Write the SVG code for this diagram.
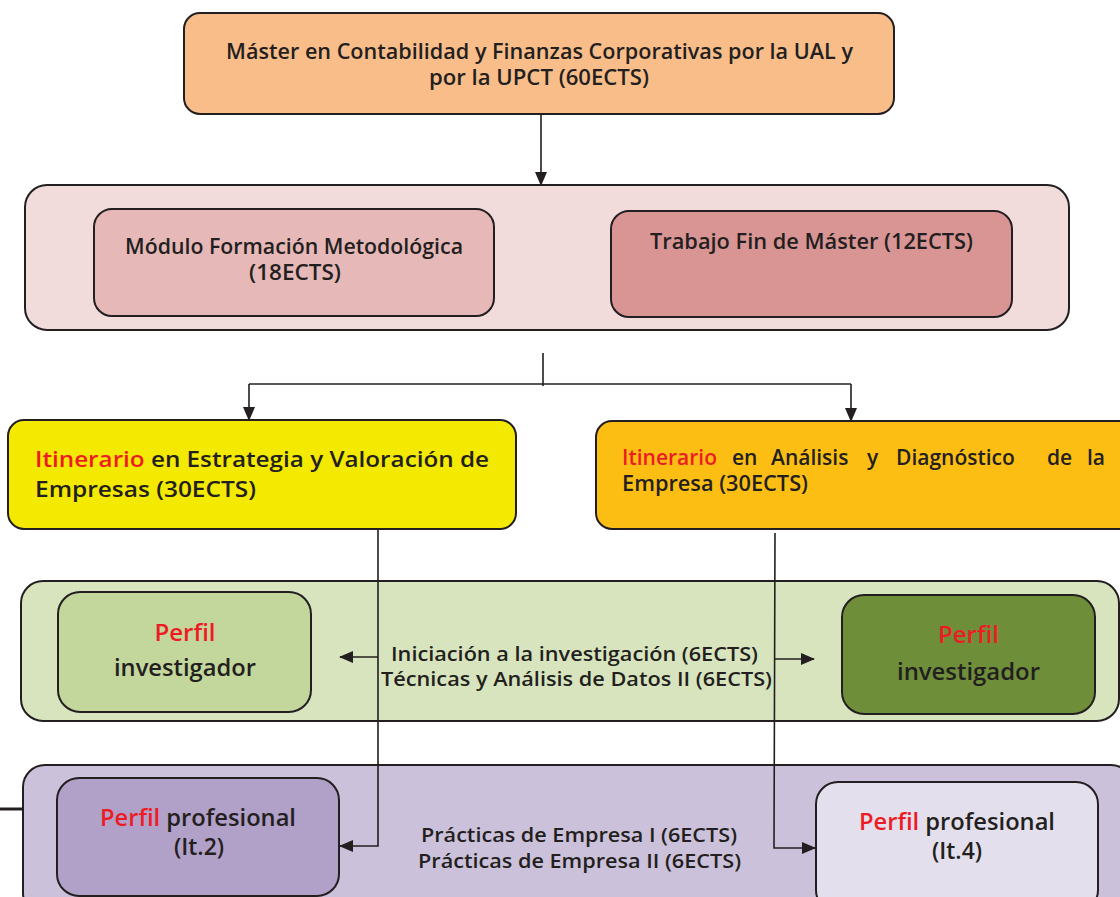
<svg xmlns="http://www.w3.org/2000/svg" width="1120" height="897" viewBox="0 0 1120 897">
<defs>
<marker id="ah" viewBox="0 0 14 12" refX="13" refY="6" markerWidth="14" markerHeight="12" markerUnits="userSpaceOnUse" orient="auto">
<path d="M0,0 L14,6 L0,12 Z" fill="#231f20"/>
</marker>
</defs>
<style>
.box{stroke:#231f20;stroke-width:2}
.t{font-family:'Open Sans','Liberation Sans',sans-serif;font-weight:600;fill:#231f20}
.r{fill:#ed1c24}
.c{text-anchor:middle}
.ln{fill:none;stroke:#231f20;stroke-width:1.6}
.arr{marker-end:url(#ah)}
</style>
<rect width="1120" height="897" fill="#ffffff"/>

<g id="master">
<rect class="box" x="184" y="13" width="710" height="101" rx="16" fill="#f9bd8a"/>
<text class="t" x="226" y="59" font-size="21" textLength="627" lengthAdjust="spacingAndGlyphs">Máster en Contabilidad y Finanzas Corporativas por la UAL y</text>
<text class="t" x="429" y="85" font-size="21" textLength="220" lengthAdjust="spacingAndGlyphs">por la UPCT (60ECTS)</text>
</g>

<g id="bloque-comun">
<rect class="box" x="25" y="185" width="1044" height="145" rx="22" fill="#f2dcdb"/>
</g>
<g id="modulo">
<rect class="box" x="94" y="209" width="400" height="107" rx="18" fill="#e6b8b7"/>
<text class="t" x="125" y="254" font-size="21" textLength="338" lengthAdjust="spacingAndGlyphs">Módulo Formación Metodológica</text>
<text class="t" x="249" y="280" font-size="21" textLength="92" lengthAdjust="spacingAndGlyphs">(18ECTS)</text>
</g>
<g id="tfm">
<rect class="box" x="611" y="211" width="401" height="106" rx="18" fill="#d99594"/>
<text class="t" x="650" y="249" font-size="21" textLength="323" lengthAdjust="spacingAndGlyphs">Trabajo Fin de Máster (12ECTS)</text>
</g>

<g id="itinerario-estrategia">
<rect class="box" x="8" y="420" width="508" height="109" rx="16" fill="#f4e900"/>
<text class="t" x="35" y="467" font-size="22" textLength="454" lengthAdjust="spacingAndGlyphs"><tspan class="r">Itinerario</tspan> en Estrategia y Valoración de</text>
<text class="t" x="35" y="497" font-size="22" textLength="221" lengthAdjust="spacingAndGlyphs">Empresas (30ECTS)</text>
</g>

<g id="itinerario-analisis">
<rect class="box" x="596" y="421" width="540" height="108" rx="16" fill="#fdbe14"/>
<text class="t" y="465" font-size="21"><tspan class="r" x="622">Itinerario</tspan><tspan x="732">en</tspan><tspan x="771">Análisis</tspan><tspan x="867">y</tspan><tspan x="896">Diagnóstico</tspan><tspan x="1047">de</tspan><tspan x="1087">la</tspan></text>
<text class="t" x="622" y="491" font-size="21" textLength="186" lengthAdjust="spacingAndGlyphs">Empresa (30ECTS)</text>
</g>

<g id="bloque-investigador">
<rect class="box" x="21" y="581" width="1098" height="140" rx="22" fill="#d7e4bd"/>
<text class="t" x="391" y="661" font-size="19.5" textLength="367" lengthAdjust="spacingAndGlyphs">Iniciación a la investigación (6ECTS)</text>
<text class="t" x="381" y="686" font-size="19.5" textLength="391" lengthAdjust="spacingAndGlyphs">Técnicas y Análisis de Datos II (6ECTS)</text>
</g>
<g id="perfil-investigador-1">
<rect class="box" x="58" y="592" width="253" height="120" rx="22" fill="#c3d69b"/>
<text class="t c r" x="185" y="641" font-size="24">Perfil</text>
<text class="t c" x="185" y="676" font-size="24" textLength="142" lengthAdjust="spacingAndGlyphs">investigador</text>
</g>
<g id="perfil-investigador-2">
<rect class="box" x="842" y="595" width="253" height="119" rx="22" fill="#6e8e39"/>
<text class="t c r" x="968.5" y="643" font-size="24">Perfil</text>
<text class="t c" x="968.5" y="680" font-size="24" textLength="143" lengthAdjust="spacingAndGlyphs">investigador</text>
</g>

<g id="bloque-profesional">
<rect class="box" x="23" y="765" width="1110" height="150" rx="22" fill="#ccc1da"/>
<text class="t" x="421" y="842" font-size="20" textLength="316" lengthAdjust="spacingAndGlyphs">Prácticas de Empresa I (6ECTS)</text>
<text class="t" x="418" y="868" font-size="20" textLength="323" lengthAdjust="spacingAndGlyphs">Prácticas de Empresa II (6ECTS)</text>
</g>
<g id="perfil-profesional-2">
<rect class="box" x="57" y="778" width="282" height="118" rx="22" fill="#b1a0c7"/>
<text class="t c" x="198" y="826" font-size="23" textLength="196" lengthAdjust="spacingAndGlyphs"><tspan class="r">Perfil</tspan> profesional</text>
<text class="t c" x="199" y="855" font-size="23">(It.2)</text>
</g>
<g id="perfil-profesional-4">
<rect class="box" x="816" y="782" width="282" height="130" rx="22" fill="#e4dfec"/>
<text class="t c" x="957" y="830" font-size="23" textLength="196" lengthAdjust="spacingAndGlyphs"><tspan class="r">Perfil</tspan> profesional</text>
<text class="t c" x="957" y="859" font-size="23">(It.4)</text>
</g>

<g id="connectors">
<line class="ln arr" x1="541" y1="114" x2="541" y2="185"/>
<line class="ln" x1="543" y1="353" x2="543" y2="386"/>
<line class="ln" x1="249" y1="384" x2="851" y2="384"/>
<line class="ln arr" x1="249" y1="384" x2="249" y2="420"/>
<line class="ln arr" x1="851" y1="384" x2="851" y2="421"/>
<line class="ln arr" x1="378" y1="657" x2="340" y2="657"/>
<line class="ln arr" x1="775" y1="659" x2="814" y2="659"/>
<polyline class="ln arr" points="378,529 378,846 340,846"/>
<polyline class="ln arr" points="775,533 774,848 815,848"/>
<line x1="0" y1="809" x2="23" y2="809" stroke="#231f20" stroke-width="3"/>
</g>
</svg>
